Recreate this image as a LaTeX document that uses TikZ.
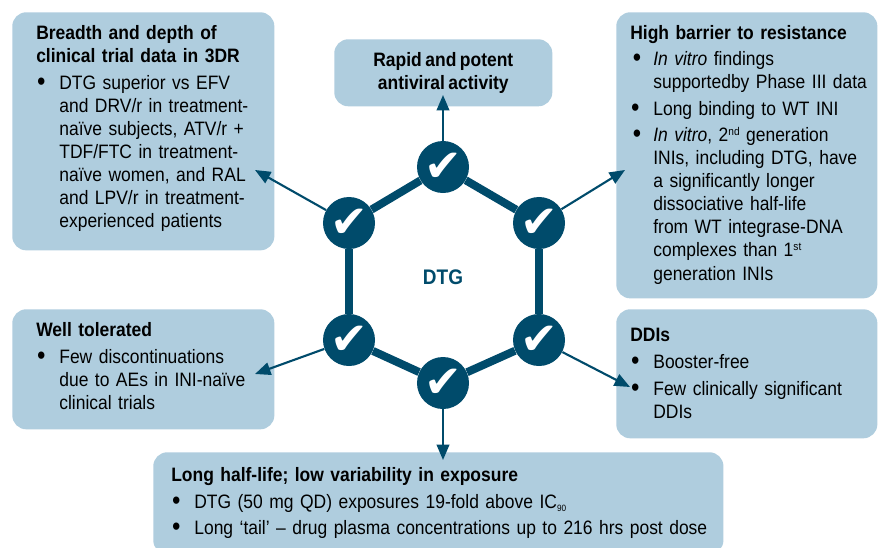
\documentclass[tikz,border=0pt]{standalone}
\usepackage{fontspec}
\setmainfont[FakeStretch=0.9,WordSpace=0.72]{Liberation Sans}
\newfontfamily\checkfont{DejaVu Sans}
\usetikzlibrary{arrows.meta,shapes,positioning}
\definecolor{boxblue}{HTML}{AFCDDE}
\definecolor{hexblue}{HTML}{004B6B}
\newcommand{\bigbul}{{\fontsize{19}{10}\selectfont\textbullet}}
\newcommand{\litem}[1]{\par\noindent\makebox[16.4pt][l]{\kern0.6pt\raisebox{-0.8pt}{\bigbul}}\parbox[t]{\hsize}{#1\par\xdef\itemdepth{\the\prevdepth}}\par\prevdepth=\itemdepth\relax}
\newcommand{\ilitem}[1]{\par\noindent\makebox[16.4pt][l]{\kern1.6pt\raisebox{-0.8pt}{\textit{\bigbul}}}\parbox[t]{\hsize}{#1\par\xdef\itemdepth{\the\prevdepth}}\par\prevdepth=\itemdepth\relax}
\newcommand{\smallsup}[1]{\raisebox{4.6pt}{\fontsize{8}{8}\selectfont #1}}
\tikzset{
    x=0.025cm,y=-0.025cm,
    box/.style={rectangle,rounded corners=0.35cm,fill=boxblue,anchor=north west,align=left,font=\fontsize{13.8}{16.4}\selectfont\setlength{\parskip}{2.4pt}},
    leftbox/.style={box,inner xsep=0.6cm,inner ysep=0pt,text width=5.35cm,minimum width=6.55cm},
    rightbox/.style={box,inner xsep=0.35cm,inner ysep=0pt,text width=5.825cm,minimum width=6.525cm},
    tick/.style={circle,fill=hexblue,text=white,inner sep=0pt,minimum size=1.3cm,font=\checkfont\fontsize{32}{32}\selectfont},
    hexline/.style={draw=hexblue,line width=5.7pt},
    arrow/.style={draw=hexblue,line width=1.5pt,-{Triangle[length=11pt,width=9pt]}}
}
\begin{document}
\begin{tikzpicture}

    \clip (0,0) rectangle (881,547);

    \node [leftbox,minimum height=5.95cm] (b1) at (12,12) {\textbf{Breadth and depth of\\clinical trial data in 3DR}
        \litem{DTG superior vs EFV\\and DRV/r in treatment-\\naïve subjects, ATV/r +\\TDF/FTC in treatment-\\naïve women, and RAL\\and LPV/r in treatment-\\experienced patients}\kern3.5pt};

    \node [box,inner sep=0pt,minimum width=5.45cm,minimum height=1.675cm,align=center] (b2) at (334,39) {\textbf{Rapid and potent}\\\textbf{antiviral activity}};

    \node [rightbox,minimum height=7.15cm] (b3) at (616,12) {\textbf{High barrier to resistance}
        \ilitem{\textit{In vitro} findings\\supportedby Phase III data}
        \litem{Long binding to WT INI}
        \ilitem{\textit{In vitro}, 2\smallsup{nd} generation\\INIs, including DTG, have\\a significantly longer\\dissociative half-life\\from WT integrase-DNA\\complexes than 1\smallsup{st}\\generation INIs}\kern1pt};

    \node [leftbox,minimum height=3cm] (b4) at (12,309) {\textbf{Well tolerated}
        \litem{Few discontinuations\\due to AEs in INI-naïve\\clinical trials}\kern4.3pt};

    \node [rightbox,minimum height=3.225cm] (b5) at (616,309) {\textbf{DDIs}
        \litem{Booster-free}
        \litem{Few clinically significant\\DDIs}};

    \node [box,inner xsep=0.45cm,inner ysep=0pt,text width=13.35cm,minimum height=2.55cm] (b6) at (153,452) {\textbf{Long half-life; low variability in exposure}
        \litem{DTG (50 mg QD) exposures 19-fold above IC\raisebox{-2pt}{\fontsize{6.5}{6.5}\selectfont 90}}
        \litem{Long ‘tail’ – drug plasma concentrations up to 216 hrs post dose}};

    \node [tick] (c1) at (443,167) {✔};
    \node [tick] (c2) at (539,223) {✔};
    \node [tick] (c3) at (539,340) {✔};
    \node [tick] (c4) at (443,383) {✔};
    \node [tick] (c5) at (349,340) {✔};
    \node [tick] (c6) at (349,223) {✔};

    \draw [hexline] (c1) -- (c2);
    \draw [hexline] (c2) -- (c3);
    \draw [hexline] (c3) -- (c4);
    \draw [hexline] (c4) -- (c5);
    \draw [hexline] (c5) -- (c6);
    \draw [hexline] (c6) -- (c1);

    \node [text=hexblue,font=\fontsize{15}{16}\selectfont\bfseries] (dtg) at (443,277) {DTG};

    \coordinate (t1) at (443,95);
    \coordinate (t2) at (625,170);
    \coordinate (t3) at (630,387);
    \coordinate (t4) at (443,460);
    \coordinate (t5) at (255,374);
    \coordinate (t6) at (255,170);

    \draw [arrow] (c1) -- (t1);
    \draw [arrow] (c2) -- (t2);
    \draw [arrow] (c3) -- (t3);
    \draw [arrow] (c4) -- (t4);
    \draw [arrow] (c5) -- (t5);
    \draw [arrow] (c6) -- (t6);
\end{tikzpicture}
\end{document}
